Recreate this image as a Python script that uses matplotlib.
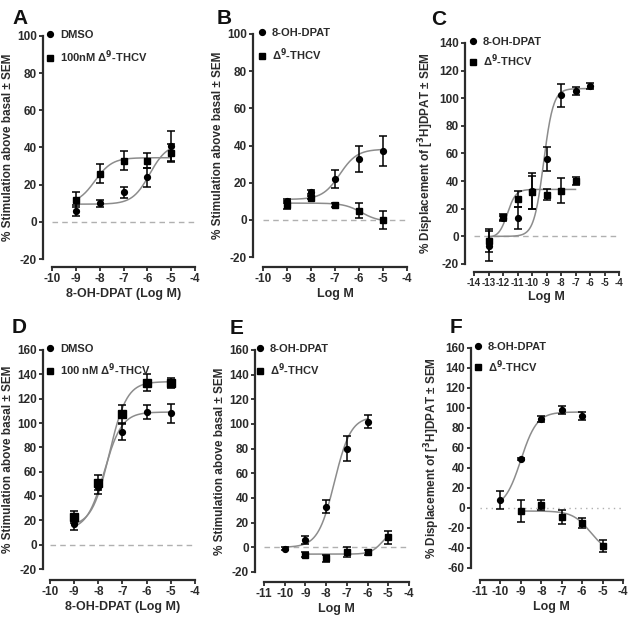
import numpy as np
import matplotlib
matplotlib.use("Agg")
import matplotlib.pyplot as plt
from matplotlib.lines import Line2D

plt.rcParams['font.family'] = ['Liberation Sans', 'DejaVu Sans']
plt.rcParams['font.weight'] = 'bold'
plt.rcParams['axes.labelweight'] = 'bold'
plt.rcParams['axes.unicode_minus'] = False
plt.rcParams['mathtext.default'] = 'bf'

W, H = 629, 617
DARK = '#2b2b2b'
CURVE = '#8c8c8c'

# ---- panel A ----
a_x = [-9, -8, -7, -6, -5]
a_dmso = [6, 10, 16, 24, 41]
a_dmso_err = [3, 2, 3, 5, 8]
a_thcv = [12, 26, 33, 33, 37]
a_thcv_err = [4, 5, 5, 4, 5]
# fit params: bottom, top, logEC50, hill
a_dmso_fit = (9.5, 42, -5.9, 1.2)
a_thcv_fit = (9.5, 34.5, -8.2, 1.2)

# ---- panel B ----
b_x = [-9, -8, -7, -6, -5]
b_dpat = [10, 15, 22, 33, 37]
b_dpat_err = [1, 1, 5, 7, 8]
b_thcv = [8, 12, 8, 5, 0]
b_thcv_err = [2, 1, 1, 4, 5]
b_dpat_fit = (11, 38, -6.8, 1.2)
b_thcv_fit = (9, -1, -5.9, 1.2)

# ---- panel C ----
c_x_dpat = [-13, -12, -11, -10, -9, -8, -7, -6]
c_dpat = [-7, 13, 13, 33, 56, 102, 105, 109]
c_dpat_err = [11, 2, 8, 13, 9, 8, 3, 2]
c_x_thcv = [-13, -12, -11, -10, -9, -8, -7]
c_thcv = [-3, 14, 27, 32, 30, 33, 40]
c_thcv_err = [8, 2, 6, 12, 4, 9, 3]
c_dpat_fit = (0, 107, -9.2, 1.3)
c_thcv_fit = (-1, 34, -11.7, 1.5)

# ---- panel D ----
d_x = [-9, -8, -7, -6, -5]
d_dmso = [17, 47, 93, 109, 108]
d_dmso_err = [5, 5, 7, 6, 8]
d_thcv = [23, 51, 107, 133, 133]
d_thcv_err = [5, 6, 8, 7, 4]
d_dmso_fit = (12, 109, -7.75, 1.2)
d_thcv_fit = (15, 134, -7.55, 1.2)

# ---- panel E ----
e_x_dpat = [-10, -9, -8, -7, -6]
e_dpat = [-1, 6, 33, 80, 102]
e_dpat_err = [1, 3, 5, 10, 5]
e_x_thcv = [-9, -8, -7, -6, -5]
e_thcv = [-6, -9, -4, -4, 8]
e_thcv_err = [2, 3, 4, 2, 5]
e_dpat_fit = (0, 106, -7.6, 1.1)
e_thcv_fit = (-5.5, 14, -5.3, 1.6)

# ---- panel F ----
f_x_dpat = [-10, -9, -8, -7, -6]
f_dpat = [8, 49, 89, 98, 92]
f_dpat_err = [9, 1, 3, 4, 4]
f_x_thcv = [-9, -8, -7, -6, -5]
f_thcv = [-3, 3, -9, -15, -38]
f_thcv_err = [11, 5, 7, 5, 6]
f_dpat_fit = (0, 96, -9.0, 1.1)
f_thcv_fit = (-3, -45, -5.6, 1.0)

stim_label = '% Stimulation above basal \u00b1 SEM'
disp_label = '% Displacement of [$^{3}$H]DPAT \u00b1 SEM'
thcv = '\u0394$^{9}$-THCV'


def sigmoid(x, p):
    bottom, top, logec, hill = p
    return bottom + (top - bottom) / (1 + 10 ** ((logec - x) * hill))


fig = plt.figure(figsize=(W / 100, H / 100), dpi=100)


def make_axes(x0, x1, ytop, ybot, yaxis_px, xspine_px, xlim, ylim, xticks, yticks, xsize=8.5):
    ax = fig.add_axes([x0 / W, 1 - ybot / H, (x1 - x0) / W, (ybot - ytop) / H])
    ax.set_xlim(*xlim)
    ax.set_ylim(*ylim)
    for s in ['top', 'right']:
        ax.spines[s].set_visible(False)
    ax.spines['left'].set_position(('outward', (x0 - yaxis_px) * 0.72))
    ax.spines['bottom'].set_position(('outward', (xspine_px - ybot) * 0.72))
    for s in ['left', 'bottom']:
        ax.spines[s].set_linewidth(1.6)
        ax.spines[s].set_color(DARK)
    ax.tick_params(direction='out', length=3, width=1.3, colors=DARK, pad=1.5)
    ax.set_xticks(xticks)
    ax.set_yticks(yticks)
    ax.set_xticklabels([str(v) for v in xticks], fontsize=xsize, fontweight='bold')
    ax.set_yticklabels([str(v) for v in yticks], fontsize=8.5, fontweight='bold')
    ax.patch.set_alpha(0)
    return ax


def series(ax, x, y, err, fit, marker, ms):
    xs = np.linspace(min(x), max(x), 200)
    ax.plot(xs, sigmoid(xs, fit), color=CURVE, lw=1.1, zorder=2)
    ax.errorbar(x, y, yerr=err, fmt=marker, color='black', ms=ms, capsize=2.6,
                elinewidth=1.1, capthick=1.1, zorder=3, clip_on=False)


def legend(ax, labels, mx, my, spacing):
    h = [Line2D([], [], marker='o', color='black', ls='none', ms=4.2),
         Line2D([], [], marker='s', color='black', ls='none', ms=5)]
    ax.legend(h, labels, loc='upper left', frameon=False,
              prop={'size': 8, 'weight': 'bold'},
              handlelength=0.8, handletextpad=0.5, borderpad=0, borderaxespad=0,
              labelspacing=spacing,
              bbox_to_anchor=((mx - 4.5) / W, 1 - (my - 6) / H),
              bbox_transform=fig.transFigure, labelcolor=DARK)


def labels(ax, xl, yl):
    ax.set_xlabel(xl, fontsize=9, color=DARK, labelpad=2, fontweight='bold')
    ax.set_ylabel(yl, fontsize=8.5, color=DARK, labelpad=2, fontweight='bold')


# A
ax = make_axes(52, 195, 36, 259, 43, 267, (-10, -4), (-20, 100),
               range(-10, -3), range(-20, 101, 20))
ax.axhline(0, color='#b0b0b0', lw=1, ls=(0, (4, 3)), zorder=1)
series(ax, a_x, a_dmso, a_dmso_err, a_dmso_fit, 'o', 4.2)
series(ax, a_x, a_thcv, a_thcv_err, a_thcv_fit, 's', 5)
labels(ax, '8-OH-DPAT (Log M)', stim_label)
legend(ax, ['DMSO', '100nM ' + thcv], 50, 36, 0.8)

# B
ax = make_axes(263, 407, 34, 257, 253, 267, (-10, -4), (-20, 100),
               range(-10, -3), range(-20, 101, 20))
ax.axhline(0, color='#b0b0b0', lw=1, ls=(0, (4, 3)), zorder=1)
series(ax, b_x, b_dpat, b_dpat_err, b_dpat_fit, 'o', 4.2)
series(ax, b_x, b_thcv, b_thcv_err, b_thcv_fit, 's', 5)
labels(ax, 'Log M', stim_label)
legend(ax, ['8-OH-DPAT', thcv], 262, 34, 0.8)

# C
ax = make_axes(474, 619, 43, 264, 465, 272, (-14, -4), (-20, 140),
               range(-14, -3), range(-20, 141, 20), xsize=7)
ax.axhline(0, color='#b0b0b0', lw=1, ls=(0, (4, 3)), zorder=1)
series(ax, c_x_dpat, c_dpat, c_dpat_err, c_dpat_fit, 'o', 4.2)
series(ax, c_x_thcv, c_thcv, c_thcv_err, c_thcv_fit, 's', 5)
labels(ax, 'Log M', disp_label)
legend(ax, ['8-OH-DPAT', thcv], 473, 43, 0.5)

# D
ax = make_axes(50, 195, 350, 569, 43, 580, (-10, -4), (-20, 160),
               range(-10, -3), range(-20, 161, 20))
ax.axhline(0, color='#b0b0b0', lw=1, ls=(0, (4, 3)), zorder=1)
series(ax, d_x, d_dmso, d_dmso_err, d_dmso_fit, 'o', 4.2)
series(ax, d_x, d_thcv, d_thcv_err, d_thcv_fit, 's', 5.5)
labels(ax, '8-OH-DPAT (Log M)', stim_label)
legend(ax, ['DMSO', '100 nM ' + thcv], 50, 350, 0.7)

# E
ax = make_axes(264, 409, 350, 572, 255, 582, (-11, -4), (-20, 160),
               range(-11, -3), range(-20, 161, 20))
ax.axhline(0, color='#b0b0b0', lw=1, ls=(0, (4, 3)), zorder=1)
series(ax, e_x_dpat, e_dpat, e_dpat_err, e_dpat_fit, 'o', 4.2)
series(ax, e_x_thcv, e_thcv, e_thcv_err, e_thcv_fit, 's', 5)
labels(ax, 'Log M', stim_label)
legend(ax, ['8-OH-DPAT', thcv], 260, 350, 0.7)

# F
ax = make_axes(480, 623, 348, 568, 471, 580, (-11, -4), (-60, 160),
               range(-11, -3), range(-60, 161, 20))
ax.axhline(0, color='#b0b0b0', lw=1, ls=(0, (1, 3)), zorder=1)
series(ax, f_x_dpat, f_dpat, f_dpat_err, f_dpat_fit, 'o', 4.2)
series(ax, f_x_thcv, f_thcv, f_thcv_err, f_thcv_fit, 's', 5)
labels(ax, 'Log M', disp_label)
legend(ax, ['8-OH-DPAT', thcv], 478, 348, 0.55)

# panel letters
for letter, px, py in [('A', 12, 24), ('B', 217, 24), ('C', 431, 25),
                       ('D', 12, 333), ('E', 230, 334), ('F', 450, 333)]:
    fig.text(px / W, 1 - py / H, letter, fontsize=15, fontweight='bold',
             color='#111111', va='baseline', ha='left')

fig.savefig('out.png', dpi=100)
